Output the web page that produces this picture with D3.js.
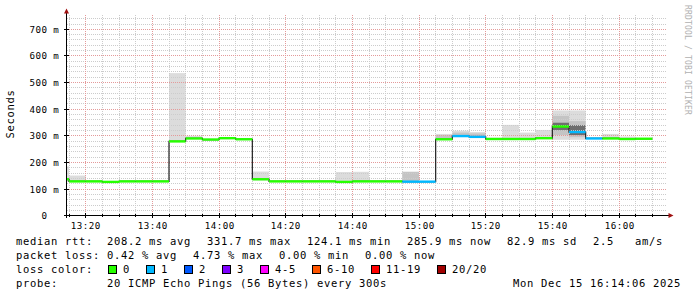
<!DOCTYPE html>
<html>
<head>
<meta charset="utf-8">
<script src="https://cdn.jsdelivr.net/npm/d3@7"></script>
<style>
  body { margin: 0; background: #fff; }
  svg text { font-family: "DejaVu Sans Mono", monospace; white-space: pre; fill: #000; }
  .axisText { font-size: 9.2px; letter-spacing: 0.46px; }
  .legText { font-size: 10.5px; letter-spacing: 0.68px; }
</style>
</head>
<body>
<svg width="697" height="297"></svg>
<script>
// visible time window and 5 minute bins
let viewStart = "13:14:24";
let viewEnd = "16:14:24";

let binTimes = ["13:10","13:15","13:20","13:25","13:30","13:35","13:40","13:45","13:50","13:55",
  "14:00","14:05","14:10","14:15","14:20","14:25","14:30","14:35","14:40","14:45","14:50","14:55",
  "15:00","15:05","15:10","15:15","15:20","15:25","15:30","15:35","15:40","15:45","15:50","15:55",
  "16:00","16:05"];

let medianMs = [134, 126, 126, 124.1, 126, 126, 126, 276, 287, 283, 288, 284, 134, 126, 126, 126, 126, 124.1,
  126, 126, 126, 125, 125, 284, 296, 293, 285, 285, 285, 288, 331.7, 311, 287, 287, 285, 285.9];

let lossPings = [0,0,0,0,0,0,0,0,0,0,0,0,0,0,0,0,0,0,0,0,0,1,1,0,1,1,0,0,0,0,0,1,1,0,0,0];

// smoke: full ping spread, then denser bands
let smokeLo = [125,124,124,122,124,124,124,274,285,281,286,282,130,124,124,124,124,122,
  124,124,124,123,123,281,293,290,283,283,283,286,282,282,285,285,283,284];
let smokeHi = [182,148,128,127,128,128,128,532,297,286,291,286,163,128,128,128,128,161,
  162,128,128,163,127,304,316,311,290,338,309,319,392,392,290,304,294,288];
let midLo = [null,null,null,null,null,null,null,null,null,null,null,null,null,null,null,null,null,null,
  null,null,null,127,null,286,298,295,null,null,null,null,300,292,null,null,null,null];
let midHi = [null,null,null,null,null,null,null,null,null,null,null,null,null,null,null,null,null,null,
  null,null,null,161,null,299,309,306,null,null,null,null,372,352,null,null,null,null];
let coreLo = [null,null,null,null,null,null,null,null,null,null,null,null,null,null,null,null,null,null,
  null,null,null,null,null,null,null,null,null,null,null,null,318,300,null,null,null,null];
let coreHi = [null,null,null,null,null,null,null,null,null,null,null,null,null,null,null,null,null,null,
  null,null,null,null,null,null,null,null,null,null,null,null,346,337,null,null,null,null];

let yTicks = [0, 100, 200, 300, 400, 500, 600, 700];
let xTickLabels = ["13:20","13:40","14:00","14:20","14:40","15:00","15:20","15:40","16:00"];

let lossLabels = ["0","1","2","3","4-5","6-10","11-19","20/20"];
let lossColors = ["#26ff00","#00b8ff","#0059ff","#7e00ff","#ff00ff","#ff5500","#ff0000","#a10000"];
let lossBreaks = [1, 2, 3, 4, 6, 11, 20];

let rttStats = ["208.2 ms avg","331.7 ms max","124.1 ms min","285.9 ms now","82.9 ms sd","2.5   am/s"];
let lossStats = ["0.42 % avg","4.73 % max","0.00 % min","0.00 % now"];
let probeText = "20 ICMP Echo Pings (56 Bytes) every 300s";
let stampText = "Mon Dec 15 16:14:06 2025";

let svg = d3.select("svg");
var plot = {l: 67, r: 667, t: 15, b: 215};

var parseHM = d3.timeParse("%H:%M");
var parseHMS = d3.timeParse("%H:%M:%S");

var x = d3.scaleTime()
  .domain([parseHMS(viewStart), parseHMS(viewEnd)])
  .range([plot.l, plot.r]);
var y = d3.scaleLinear()
  .domain([0, 750])
  .range([plot.b, plot.t]);
var lossColor = d3.scaleThreshold().domain(lossBreaks).range(lossColors);

var cx = v => Math.floor(v) + 0.5;
var cy = v => Math.ceil(v) + 0.5;

let bins = binTimes.map(function(t, i) {
  let t0 = parseHM(t);
  return {t0: t0, t1: d3.timeMinute.offset(t0, 5), med: medianMs[i], loss: lossPings[i],
    lo: smokeLo[i], hi: smokeHi[i], mlo: midLo[i], mhi: midHi[i], clo: coreLo[i], chi: coreHi[i]};
});

svg.append("defs").append("clipPath").attr("id", "plotClip")
  .append("rect").attr("x", plot.l).attr("y", plot.t - 2)
  .attr("width", plot.r - plot.l).attr("height", plot.b - plot.t + 2);

let smokeG = svg.append("g").attr("clip-path", "url(#plotClip)");

// smoke
function smokeLayer(loKey, hiKey, fill) {
  smokeG.append("g").selectAll("rect")
    .data(bins.filter(d => d[loKey] != null))
    .join("rect")
      .attr("x", d => x(d.t0))
      .attr("width", d => x(d.t1) - x(d.t0))
      .attr("y", d => y(d[hiKey]))
      .attr("height", d => y(d[loKey]) - y(d[hiKey]))
      .attr("fill", fill);
}
smokeLayer("lo", "hi", "#dcdcdc");
smokeLayer("mlo", "mhi", "#c4c4c4");
smokeLayer("clo", "chi", "#6e6e6e");

// grid
let gridG = svg.append("g");
let fiveMin = d3.timeMinute.every(5).range(x.domain()[0], x.domain()[1]);
gridG.selectAll(".vmin")
  .data(fiveMin.filter(t => t.getMinutes() % 20 !== 0))
  .join("line")
    .attr("x1", d => cx(x(d))).attr("x2", d => cx(x(d)))
    .attr("y1", plot.t).attr("y2", plot.b)
    .attr("stroke", "#cccccc").attr("stroke-dasharray", "1,1");
let hMinor = d3.range(20, 751, 20).filter(v => v % 100 !== 0);
gridG.selectAll(".hmin")
  .data(hMinor)
  .join("line")
    .attr("x1", plot.l).attr("x2", plot.r)
    .attr("y1", d => cy(y(d))).attr("y2", d => cy(y(d)))
    .attr("stroke", "#cccccc").attr("stroke-dasharray", "1,1");
gridG.selectAll(".vmaj")
  .data(fiveMin.filter(t => t.getMinutes() % 20 === 0))
  .join("line")
    .attr("x1", d => cx(x(d))).attr("x2", d => cx(x(d)))
    .attr("y1", plot.t).attr("y2", plot.b)
    .attr("stroke", "#e49a9a").attr("stroke-dasharray", "1,1");
gridG.selectAll(".hmaj")
  .data(yTicks.filter(v => v > 0))
  .join("line")
    .attr("x1", plot.l).attr("x2", plot.r)
    .attr("y1", d => cy(y(d))).attr("y2", d => cy(y(d)))
    .attr("stroke", "#e49a9a").attr("stroke-dasharray", "1,1");

// median: thin dark step line, loss-coloured segments on top
let lineG = svg.append("g").attr("clip-path", "url(#plotClip)");
let stepPts = bins.map(d => [x(d.t0), y(d.med)]);
let last = bins[bins.length - 1];
stepPts.push([x(last.t1), y(last.med)]);
lineG.append("path")
  .attr("d", d3.line().curve(d3.curveStepAfter)(stepPts))
  .attr("fill", "none").attr("stroke", "#202020").attr("stroke-width", 1.2);

lineG.selectAll(".med")
  .data(bins)
  .join("line")
    .attr("x1", d => x(d.t0)).attr("x2", d => x(d.t1))
    .attr("y1", d => y(d.med)).attr("y2", d => y(d.med))
    .attr("stroke", d => lossColor(d.loss))
    .attr("stroke-width", 2.4);

// axes
let axisG = svg.append("g");
axisG.append("line").attr("x1", 66.5).attr("x2", 66.5).attr("y1", 13).attr("y2", 218)
  .attr("stroke", "#000");
axisG.append("line").attr("x1", 64).attr("x2", 669).attr("y1", 215.5).attr("y2", 215.5)
  .attr("stroke", "#000");
axisG.append("path").attr("d", "M64,13.5L69,13.5L66.5,8.5Z").attr("fill", "#a01010");
axisG.append("path").attr("d", "M668.5,213L668.5,218L673.5,215.5Z").attr("fill", "#a01010");

axisG.selectAll(".ytick")
  .data(yTicks)
  .join("line")
    .attr("x1", 64).attr("x2", 69)
    .attr("y1", d => cy(y(d))).attr("y2", d => cy(y(d)))
    .attr("stroke", "#000");
axisG.selectAll(".xtick")
  .data(fiveMin)
  .join("line")
    .attr("x1", d => cx(x(d))).attr("x2", d => cx(x(d)))
    .attr("y1", d => d.getMinutes() % 20 === 0 ? 213 : 214)
    .attr("y2", d => d.getMinutes() % 20 === 0 ? 218 : 217)
    .attr("stroke", "#000");

axisG.selectAll(".ylab")
  .data(yTicks)
  .join("text")
    .attr("class", "axisText")
    .attr("x", 47.5)
    .attr("y", d => cy(y(d)) + 3.5)
    .attr("text-anchor", "end")
    .text(d => d);
axisG.selectAll(".yunit")
  .data(yTicks.filter(v => v > 0))
  .join("text")
    .attr("class", "axisText")
    .attr("x", 53.3)
    .attr("y", d => cy(y(d)) + 3.5)
    .text("m");
axisG.selectAll(".xlab")
  .data(xTickLabels)
  .join("text")
    .attr("class", "axisText")
    .attr("x", d => cx(x(parseHMS(d + ":00"))) + 0.3)
    .attr("y", 228.5)
    .attr("text-anchor", "middle")
    .text(d => d);

svg.append("text").attr("class", "legText")
  .attr("transform", "translate(14,114) rotate(-90)")
  .attr("text-anchor", "middle")
  .text("Seconds");

svg.append("text")
  .attr("transform", "translate(685,5) rotate(90)")
  .style("font-size", "8px").style("letter-spacing", "0.18px").style("fill", "#b0b0b0")
  .text("RRDTOOL / TOBI OETIKER");

// legend
var CH = 7, GAP = 16, COL1 = 107;
let legG = svg.append("g");
function rowTitle(s, yb) {
  legG.append("text").attr("class", "legText").attr("x", 16).attr("y", yb).text(s);
}
function statRow(items, yb) {
  let px = COL1;
  items.forEach(function(s) {
    legG.append("text").attr("class", "legText").attr("x", px).attr("y", yb).text(s);
    px += s.length * CH + GAP;
  });
}
rowTitle("median rtt:", 245);
statRow(rttStats, 245);
rowTitle("packet loss:", 259);
statRow(lossStats, 259);
rowTitle("loss color:", 273);
let bx = COL1 + 1;
lossLabels.forEach(function(s, i) {
  legG.append("rect").attr("x", bx + 0.5).attr("y", 265.5).attr("width", 8).attr("height", 8)
    .attr("fill", lossColors[i]).attr("stroke", "#000");
  legG.append("text").attr("class", "legText").attr("x", bx + 15).attr("y", 273).text(s);
  bx += 15 + s.length * CH + GAP;
});
rowTitle("probe:", 287);
legG.append("text").attr("class", "legText").attr("x", COL1).attr("y", 287).text(probeText);
legG.append("text").attr("class", "legText").attr("x", 681).attr("y", 287)
  .attr("text-anchor", "end").text(stampText);
</script>
</body>
</html>
